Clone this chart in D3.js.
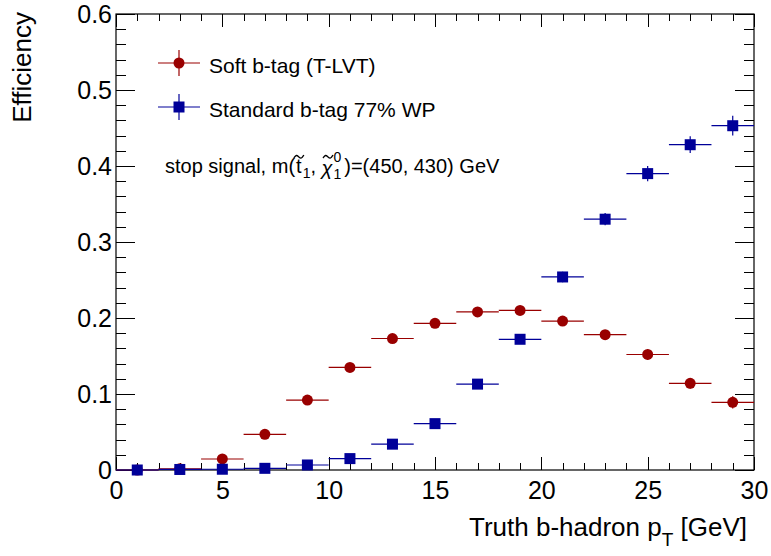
<!DOCTYPE html>
<html>
<head>
<meta charset="utf-8">
<script src="https://cdn.jsdelivr.net/npm/d3@7"></script>
<style>
  body { margin: 0; background: #fff; }
  svg { font-family: "Liberation Sans", Arial, sans-serif; }
</style>
</head>
<body>
<svg id="chart" width="771" height="556"></svg>
<script>
// bin centres and half widths (GeV)
const binCenters = [1, 3, 5, 7, 9, 11, 13, 15, 17, 19, 21, 23, 25, 27, 29];
const binHalfWidth = [1, 1, 1, 1, 1, 1, 1, 1, 1, 1, 1, 1, 1, 1, 1];

// soft b-tag (T-LVT)
const softEff = [0.000, 0.0015, 0.0145, 0.047, 0.092, 0.135, 0.173, 0.193, 0.208, 0.210, 0.196, 0.178, 0.152, 0.114, 0.089];
const softErr = [0.001, 0.001, 0.002, 0.003, 0.004, 0.004, 0.005, 0.005, 0.005, 0.006, 0.006, 0.006, 0.007, 0.007, 0.008];

// standard b-tag 77% WP
const stdEff = [0.000, 0.0007, 0.001, 0.0022, 0.0066, 0.015, 0.034, 0.061, 0.113, 0.172, 0.254, 0.330, 0.390, 0.428, 0.453];
const stdErr = [0.0005, 0.0005, 0.0008, 0.001, 0.002, 0.002, 0.003, 0.004, 0.005, 0.006, 0.007, 0.008, 0.010, 0.011, 0.013];

const xMajor = [0, 5, 10, 15, 20, 25, 30];
const yMajor = [0, 0.1, 0.2, 0.3, 0.4, 0.5, 0.6];

const red = '#990000';
const blue = '#000099';

const svg = d3.select('#chart');
const margin = { top: 14, right: 17, bottom: 86, left: 116 };
const width = 771, height = 556;

const x = d3.scaleLinear().domain([0, 30]).range([margin.left, width - margin.right]);
const y = d3.scaleLinear().domain([0, 0.6]).range([height - margin.bottom, margin.top]);

const xMinor = d3.range(0, 31, 1).filter(v => v % 5 !== 0);
const yMinor = d3.range(0, 0.6001, 0.02).filter((v, i) => i % 5 !== 0);

function styleAxis(g) {
    g.select('.domain').remove();
    g.selectAll('line').attr('stroke', '#000').attr('shape-rendering', 'crispEdges');
    g.selectAll('text').attr('fill', '#000').attr('font-family', '"Liberation Sans", Arial, sans-serif');
}

// bottom axis
svg.append('g').attr('transform', `translate(0,${y(0)})`)
    .call(d3.axisBottom(x).tickValues(xMajor).tickSize(-13).tickPadding(11).tickFormat(d3.format('d')))
    .call(styleAxis)
    .selectAll('text').attr('font-size', 25);
svg.append('g').attr('transform', `translate(0,${y(0)})`)
    .call(d3.axisBottom(x).tickValues(xMinor).tickSize(-7).tickFormat(''))
    .call(styleAxis);
// top axis
svg.append('g').attr('transform', `translate(0,${y(0.6)})`)
    .call(d3.axisTop(x).tickValues(xMajor).tickSize(-13).tickFormat(''))
    .call(styleAxis);
svg.append('g').attr('transform', `translate(0,${y(0.6)})`)
    .call(d3.axisTop(x).tickValues(xMinor).tickSize(-7).tickFormat(''))
    .call(styleAxis);
// left axis
svg.append('g').attr('transform', `translate(${x(0)},0)`)
    .call(d3.axisLeft(y).tickValues(yMajor).tickSize(-19).tickPadding(4)
        .tickFormat(d => d === 0 ? '0' : d3.format('.1f')(d)))
    .call(styleAxis)
    .selectAll('text').attr('font-size', 25);
svg.append('g').attr('transform', `translate(${x(0)},0)`)
    .call(d3.axisLeft(y).tickValues(yMinor).tickSize(-10).tickFormat(''))
    .call(styleAxis);
// right axis
svg.append('g').attr('transform', `translate(${x(30)},0)`)
    .call(d3.axisRight(y).tickValues(yMajor).tickSize(-19).tickFormat(''))
    .call(styleAxis);
svg.append('g').attr('transform', `translate(${x(30)},0)`)
    .call(d3.axisRight(y).tickValues(yMinor).tickSize(-10).tickFormat(''))
    .call(styleAxis);

// frame
svg.append('rect')
    .attr('x', x(0)).attr('y', y(0.6))
    .attr('width', x(30) - x(0)).attr('height', y(0) - y(0.6))
    .attr('fill', 'none').attr('stroke', '#000').attr('stroke-width', 1.2);

// axis titles
svg.append('text')
    .attr('x', x(30) - 7).attr('y', 536)
    .attr('text-anchor', 'end').attr('font-size', 26)
    .html('Truth b-hadron p<tspan dy="10" font-size="19">T</tspan><tspan dy="-10"> [GeV]</tspan>');

svg.append('text')
    .attr('transform', `translate(31,${y(0.6) - 2}) rotate(-90)`)
    .attr('text-anchor', 'end').attr('font-size', 26)
    .text('Efficiency');

// data points
function drawSeries(eff, err, color, shape) {
    const pts = binCenters.map((c, i) => ({ x: c, xe: binHalfWidth[i], y: eff[i], ye: err[i] }));
    const g = svg.append('g');
    g.selectAll('line.h').data(pts).enter().append('line')
        .attr('x1', d => x(d.x - d.xe)).attr('x2', d => x(d.x + d.xe))
        .attr('y1', d => y(d.y)).attr('y2', d => y(d.y))
        .attr('stroke', color).attr('stroke-width', 1.2);
    g.selectAll('line.v').data(pts).enter().append('line')
        .attr('x1', d => x(d.x)).attr('x2', d => x(d.x))
        .attr('y1', d => y(d.y - d.ye)).attr('y2', d => y(d.y + d.ye))
        .attr('stroke', color).attr('stroke-width', 1.2);
    if (shape === 'circle') {
        g.selectAll('circle').data(pts).enter().append('circle')
            .attr('cx', d => x(d.x)).attr('cy', d => y(d.y)).attr('r', 5.5)
            .attr('fill', color);
    } else {
        g.selectAll('rect').data(pts).enter().append('rect')
            .attr('x', d => x(d.x) - 5.5).attr('y', d => y(d.y) - 5.5)
            .attr('width', 11).attr('height', 11)
            .attr('fill', color);
    }
}
drawSeries(softEff, softErr, red, 'circle');
drawSeries(stdEff, stdErr, blue, 'square');

// legend
const legend = [
    { label: 'Soft b-tag (T-LVT)', color: red, shape: 'circle', cy: 63 },
    { label: 'Standard b-tag 77% WP', color: blue, shape: 'square', cy: 107 }
];
legend.forEach(l => {
    const g = svg.append('g');
    g.append('line').attr('x1', 158).attr('x2', 200).attr('y1', l.cy).attr('y2', l.cy)
        .attr('stroke', l.color).attr('stroke-width', 1.2);
    g.append('line').attr('x1', 179).attr('x2', 179).attr('y1', l.cy - 13).attr('y2', l.cy + 13)
        .attr('stroke', l.color).attr('stroke-width', 1.2);
    if (l.shape === 'circle') {
        g.append('circle').attr('cx', 179).attr('cy', l.cy).attr('r', 5.5).attr('fill', l.color);
    } else {
        g.append('rect').attr('x', 173.5).attr('y', l.cy - 5.5).attr('width', 11).attr('height', 11).attr('fill', l.color);
    }
    g.append('text').attr('x', 209).attr('y', l.cy + 10).attr('font-size', 21).text(l.label);
});

// signal annotation, built piece by piece
const ann = svg.append('g');
let cx = 165;
const baseY = 173;
const tildePath = d3.line().curve(d3.curveBasis);
function tilde(cxm, top) {
    ann.append('path')
        .attr('d', tildePath([[cxm - 5, top + 2], [cxm - 2.5, top - 1.5], [cxm, top + 1], [cxm + 2.5, top + 3], [cxm + 5, top - 1]]))
        .attr('fill', 'none').attr('stroke', '#000').attr('stroke-width', 1.3);
}
function piece(str, opts = {}) {
    const t = ann.append('text').attr('x', cx).attr('y', baseY + (opts.dy || 0))
        .attr('font-size', opts.size || 20).text(str);
    if (opts.italic) t.attr('font-style', 'italic');
    const w = t.node().getComputedTextLength();
    if (opts.tilde) tilde(cx + w / 2 + (opts.tildeShift || 0), baseY - 17);
    if (!opts.noAdvance) cx += w;
    return w;
}
piece('stop signal, m(');
cx += 1;
piece('t', { tilde: true });
cx += 1;
piece('1', { size: 14, dy: 5 });
piece(',\u00a0');
piece('\u03c7', { tilde: true, italic: true, dy: 2, tildeShift: 1 });
cx += 1;
piece('0', { size: 14, dy: -11, noAdvance: true });
piece('1', { size: 14, dy: 6 });
cx += 3;
piece(')=(450, 430) GeV');
</script>
</body>
</html>
